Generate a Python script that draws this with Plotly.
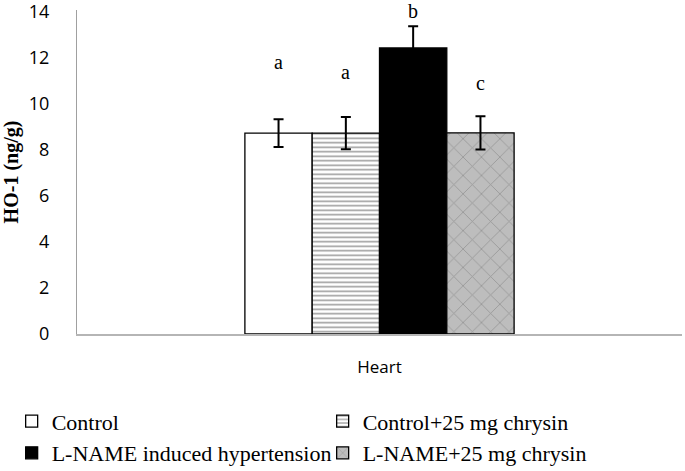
import plotly.graph_objects as go

category = ["Heart"]
groups = ["Control", "Control+25 mg chrysin", "L-NAME induced hypertension", "L-NAME+25 mg chrysin"]
means = [8.72, 8.72, 12.41, 8.73]
errs = [0.60, 0.70, 0.94, 0.72]
letters = ["a", "a", "b", "c"]
letter_y = [11.8, 11.35, 14.03, 10.9]
y_ticks = [0, 2, 4, 6, 8, 10, 12, 14]

styles = [
    dict(color="white", pattern=dict(shape="")),
    dict(color="white", pattern=dict(shape="-", fgcolor="#3a3a3a", bgcolor="white", size=4.5, solidity=0.35)),
    dict(color="black", pattern=dict(shape="")),
    dict(color="#b4b4b4", pattern=dict(shape="x", fgcolor="#6e6e6e", bgcolor="#bdbdbd", size=13, solidity=0.12)),
]

fig = go.Figure()
for name, m, e, st in zip(groups, means, errs, styles):
    fig.add_trace(go.Bar(
        x=category, y=[m], name=name,
        marker=dict(color=st["color"], pattern=st["pattern"], line=dict(color="black", width=1.3)),
        error_y=dict(type="data", array=[e], visible=True, color="black", thickness=2, width=5),
    ))

bargap = 0.555
bw = (1 - bargap) / len(groups)
for i, (lt, ly) in enumerate(zip(letters, letter_y)):
    fig.add_annotation(x=(i - (len(groups) - 1) / 2) * bw, y=ly, text=lt, showarrow=False,
                       xref="x", yref="y",
                       font=dict(family="Liberation Serif", size=20, color="black"))

fig.update_layout(
    width=685, height=471,
    margin=dict(l=77, r=3, t=9.6, b=136.5, autoexpand=False),
    paper_bgcolor="white", plot_bgcolor="white",
    barmode="group", bargap=bargap, bargroupgap=0,
    showlegend=True,
    legend=dict(orientation="h", x=-0.108, xanchor="left", y=-0.205, yanchor="top",
                entrywidth=266, entrywidthmode="pixels", traceorder="normal",
                font=dict(family="Liberation Serif", size=22, color="black"),
                itemclick=False),
    xaxis=dict(showline=True, linecolor="#b5b5b5", linewidth=1.5, showgrid=False, ticks="",
               automargin=False,
               tickfont=dict(family="Open Sans", size=17, color="black"), ticklabelstandoff=17),
    yaxis=dict(range=[0, 14.06], tickvals=y_ticks, showline=True, linecolor="#a0a0a0", linewidth=1,
               showgrid=False, zeroline=False, ticks="", ticklabelstandoff=23, automargin=False,
               ticklabeloverflow="allow",
               tickfont=dict(family="Open Sans", size=18, color="black"),
               title=dict(text="<b>HO-1 (ng/g)</b>", standoff=17,
                          font=dict(family="Liberation Serif", size=20, color="black"))),
)

fig.write_html("out.html", config={"displayModeBar": False},
               post_script="document.body.style.margin='0';")
